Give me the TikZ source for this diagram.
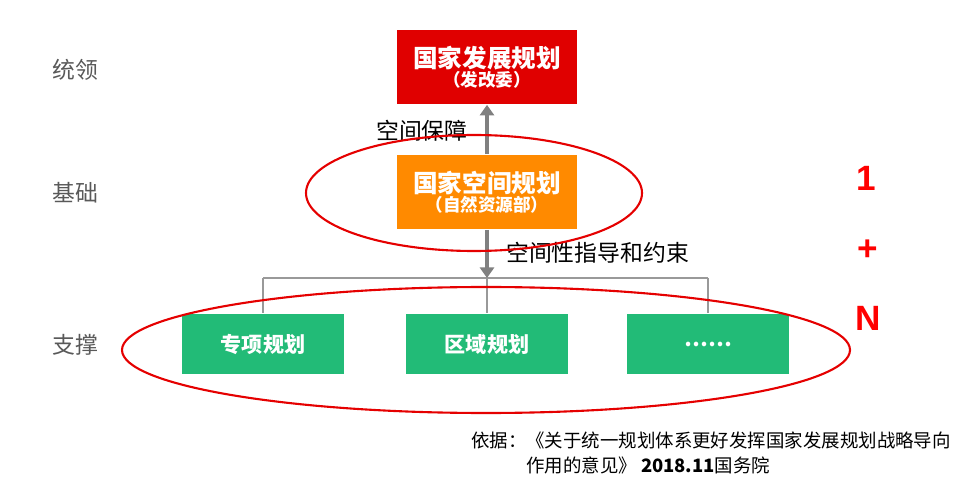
\documentclass[tikz,border=0pt]{standalone}
\usepackage{fontspec}
\setmainfont{Liberation Sans}
\newfontfamily\cjk{Noto Sans CJK SC}
\usetikzlibrary{arrows.meta, positioning}
\definecolor{topred}{HTML}{E00000}
\definecolor{midorange}{HTML}{FF8A00}
\definecolor{leafgreen}{HTML}{22BB77}
\definecolor{labelgray}{HTML}{595959}
\tikzset{
  headbox/.style = {rectangle, minimum width=3.62cm, minimum height=1.5cm, text=white, align=center, font=\cjk\bfseries},
  leafbox/.style = {rectangle, fill=leafgreen, minimum width=3.24cm, minimum height=1.22cm, text=white, font=\cjk\bfseries\fontsize{12}{14}\selectfont},
  sidelabel/.style = {text=labelgray, font=\cjk\fontsize{13}{15}\selectfont},
  bigarrow/.style = {draw=gray, line width=2.2pt, -{Triangle[length=6pt,width=8pt]}},
  treeline/.style = {draw=gray!80, line width=0.6pt},
  ring/.style = {draw=red!90!black, line width=1.2pt},
  countmark/.style = {text=red, font=\bfseries\fontsize{20}{22}\selectfont}
}
\begin{document}
\begin{tikzpicture}[x=0.02cm, y=-0.02cm]
  \useasboundingbox (0,0) rectangle (963,479);
  % boxes
  \node (Plan) [headbox, fill=topred] at (487,67) {{\fontsize{14}{17}\selectfont 国家发展规划}\\[-1pt]{\fontsize{10}{12}\selectfont （发改委）}};
  \node (Space) [headbox, fill=midorange] at (487,192) {{\fontsize{14}{17}\selectfont 国家空间规划}\\[-1pt]{\fontsize{10}{12}\selectfont （自然资源部）}};
  \node (Special) [leafbox] at (263,344) {专项规划};
  \node (Region) [leafbox] at (487,344) {区域规划};
  \node (Other) [leafbox] at (708,344) {……};
  % tree
  \coordinate (Fork) at (487,278);
  \coordinate (ForkLeft) at (263,278);
  \coordinate (ForkRight) at (708,278);
  \draw [treeline] (ForkLeft) -- (ForkRight);
  \draw [treeline] (ForkLeft) -- (Special.north);
  \draw [treeline] (Fork) -- (Region.north);
  \draw [treeline] (ForkRight) -- (Other.north);
  \draw [bigarrow] (Space.north) -- (Plan.south);
  \draw [bigarrow] (Space.south) -- (Fork);
  \node (Guard) [font=\cjk\fontsize{13}{15}\selectfont, anchor=west] at (370,131) {空间保障};
  \node (Guide) [font=\cjk\fontsize{13}{15}\selectfont, anchor=west] at (500,253) {空间性指导和约束};
  % rings
  \draw [ring] (474,193) ellipse [x radius=168, y radius=58];
  \draw [ring] (486,350) ellipse [x radius=364, y radius=63];
  % left labels
  \node (Lead) [sidelabel] at (75,70) {统领};
  \node (Base) [sidelabel] at (75,193) {基础};
  \node (Prop) [sidelabel] at (75,345) {支撑};
  % 1 + N
  \node (One) [countmark] at (866,178) {1};
  \node (Plus) [countmark] at (868,250) {+};
  \node (Many) [countmark] at (868,318) {N};
  % source
  \node (Src1) [font=\cjk\fontsize{10.5}{12}\selectfont, anchor=east] at (957,440) {依据：《关于统一规划体系更好发挥国家发展规划战略导向};
  \node (Src2) [font=\cjk\fontsize{10.5}{12}\selectfont, anchor=west] at (520,465) {作用的意见》 {\bfseries 2018.11}国务院};
\end{tikzpicture}
\end{document}
